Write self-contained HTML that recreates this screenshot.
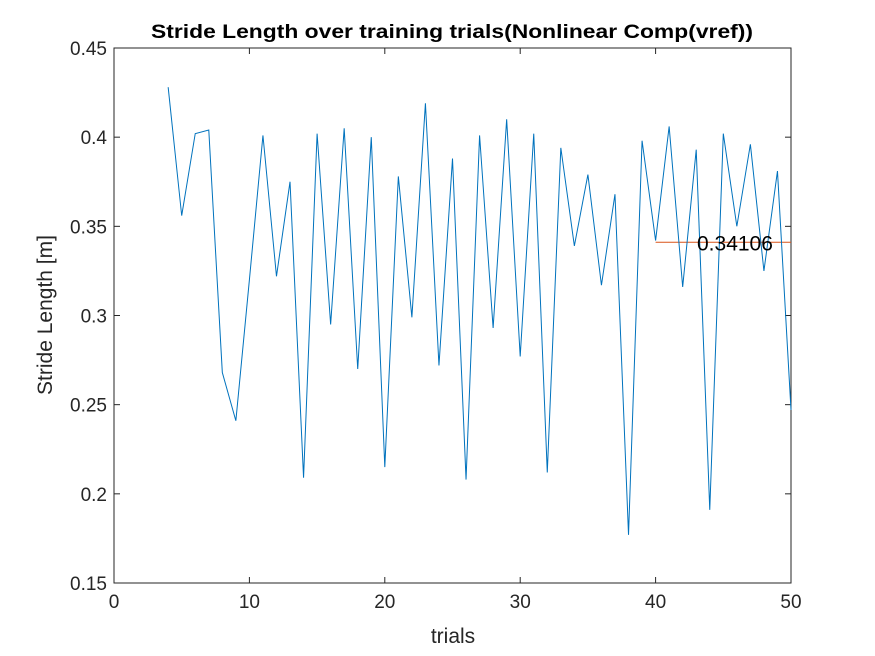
<!DOCTYPE html>
<html><head><meta charset="utf-8"><style>body{margin:0;background:#fff}svg{display:block;font-family:"Liberation Sans",sans-serif}</style></head>
<body>
<svg id="chart" width="875" height="656" viewBox="0 0 875 656">
<rect width="875" height="656" fill="#fff"/>
<text x="452" y="38" text-anchor="middle" font-size="19.5" font-weight="bold" textLength="602" lengthAdjust="spacingAndGlyphs">Stride Length over training trials(Nonlinear Comp(vref))</text>
<text x="453" y="643" text-anchor="middle" font-size="21" fill="#262626">trials</text>
<text transform="translate(52,315) rotate(-90)" text-anchor="middle" font-size="21" fill="#262626">Stride Length [m]</text>
<g id="axes"></g>
<g id="marks"></g>
</svg>
<script>
const trials=[4,5,6,7,8,9,10,11,12,13,14,15,16,17,18,19,20,21,22,23,24,25,26,27,28,29,30,31,32,33,34,35,36,37,38,39,40,41,42,43,44,45,46,47,48,49,50];
const strideLength=[0.428,0.356,0.402,0.404,0.268,0.241,0.32,0.401,0.322,0.375,0.209,0.402,0.295,0.405,0.270,0.400,0.215,0.378,0.299,0.419,0.272,0.388,0.208,0.401,0.293,0.410,0.277,0.402,0.212,0.394,0.339,0.379,0.317,0.368,0.177,0.398,0.342,0.406,0.316,0.393,0.191,0.402,0.350,0.396,0.325,0.381,0.247];
const meanValue=[0.34106];
const meanRange=[40,50];
const xTicks=[0,10,20,30,40,50];
const yTicks=[0.15,0.2,0.25,0.3,0.35,0.4,0.45];
const L=114,R=791,T=48,B=583;
const xs=v=>L+(v-0)/(50-0)*(R-L);
const ys=v=>B-(v-0.15)/(0.45-0.15)*(B-T);
const NS='http://www.w3.org/2000/svg';
function mk(tag,attrs,parent){const e=document.createElementNS(NS,tag);for(const k in attrs)e.setAttribute(k,attrs[k]);parent.appendChild(e);return e;}
const ax=document.getElementById('axes'),mg=document.getElementById('marks');
const box=mk('rect',{x:L,y:T,width:R-L,height:B-T,fill:'none',stroke:'#262626','stroke-width':1},ax);


xTicks.forEach(t=>{const x=xs(t);
 mk('line',{x1:x,x2:x,y1:B,y2:B-6,stroke:'#262626'},ax);
 mk('line',{x1:x,x2:x,y1:T,y2:T+6,stroke:'#262626'},ax);
 const tx=mk('text',{x:x,y:B+25,'text-anchor':'middle','font-size':19,fill:'#262626'},ax);tx.textContent=t;
 
 
});
yTicks.forEach(t=>{const y=ys(t);
 mk('line',{x1:L,x2:L+6,y1:y,y2:y,stroke:'#262626'},ax);
 mk('line',{x1:R,x2:R-6,y1:y,y2:y,stroke:'#262626'},ax);
 const tx=mk('text',{x:L-7,y:y+7,'text-anchor':'end','font-size':19,fill:'#262626'},ax);tx.textContent=t;
 
 
});
const ml=mk('line',{x1:xs(meanRange[0]),x2:xs(meanRange[1]),y1:ys(meanValue[0]),y2:ys(meanValue[0]),stroke:'#d95319','stroke-width':1},mg);


const pl=mk('polyline',{points:trials.map((t,i)=>xs(t)+','+ys(strideLength[i])).join(' '),fill:'none',stroke:'#0072bd','stroke-width':1},mg);


const lb=mk('text',{x:697,y:ys(meanValue[0])+8,'font-size':21,fill:'#000'},mg);lb.textContent=meanValue[0];


</script>
</body></html>
